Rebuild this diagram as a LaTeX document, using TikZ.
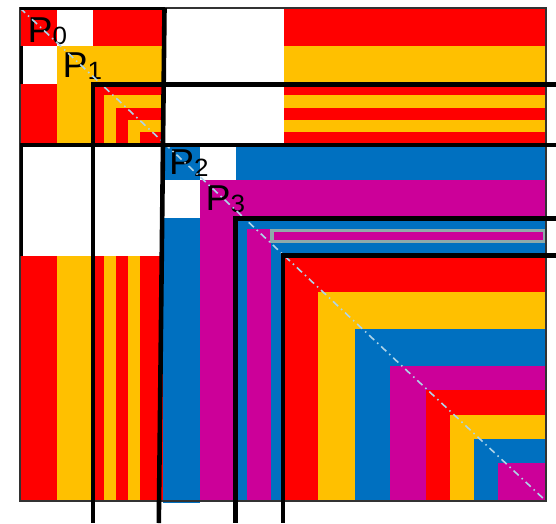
\documentclass[tikz,border=0pt]{standalone}
\usepackage{fontspec}
\setmainfont{Liberation Sans}
\usepackage{graphicx}
\definecolor{mred}{HTML}{FF0000}
\definecolor{mor}{HTML}{FFC000}
\definecolor{mblue}{HTML}{0070C0}
\definecolor{mmag}{HTML}{CC0099}
\definecolor{mgray}{RGB}{143,170,170}
\definecolor{mdiag}{RGB}{175,212,232}
\definecolor{mframe}{RGB}{50,50,50}
\newcommand{\plabel}[1]{\scalebox{1.04}[1]{\fontsize{36}{36}\selectfont P\raisebox{-2pt}{\fontsize{25}{25}\selectfont #1}}}
\begin{document}
\begin{tikzpicture}[x=1pt,y=-1pt,
  blk/.style={line width=4.6pt, black},
  wcell/.style={fill=white},
  lbl/.style={anchor=base west, inner sep=0pt}]
\useasboundingbox (0,0) rectangle (556,523);
\fill[white] (0,0) rectangle (556,523);
% row and column bands of the symmetric pattern
\foreach \c/\xa/\ya/\xb/\yb in {
  mred/20/8/57/46, mor/57/46/93/84,
  mred/93/84/104/95, mor/104/95/116/107.5, mred/116/107.5/128/120,
  mor/128/120/140/132, mred/140/132/163/145,
  mblue/163/145/200/180, mmag/200/180/236/218,
  mblue/236/218/247/229, mmag/247/229/271/243, mblue/271/243/284/256,
  mred/284/256/318/292, mor/318/292/355/329, mblue/355/329/390/366,
  mmag/390/366/426/390, mred/426/390/450/415, mor/450/415/474/439,
  mblue/474/439/498/463, mmag/498/463/546/501} {
  \fill[\c] (\xa,\ya) rectangle (546,\yb);
  \fill[\c] (\xa,\ya) rectangle (\xb,501);
}
\fill[mblue] (163,501) rectangle (200,503);
% empty blocks
\fill[wcell] (57,8) rectangle (93,46);
\fill[wcell] (20,46) rectangle (57,84);
\fill[wcell] (164,8) rectangle (284,145);
\fill[wcell] (20,145) rectangle (163,256);
\fill[wcell] (200,145) rectangle (236,180);
\fill[wcell] (163,180) rectangle (200,218);
% highlighted row
\draw[mgray, line width=3.6pt] (272,230.3) rectangle (544.8,241.5);
% labels
\node[lbl] (p0) at (27.5,42) {\plabel{0}};
\node[lbl] (p1) at (62.5,77) {\plabel{1}};
\node[lbl] (p2) at (169,174) {\plabel{2}};
\node[lbl] (p3) at (205.5,210) {\plabel{3}};
% diagonal
\draw[mdiag, line width=1.6pt, dash pattern=on 7pt off 4pt on 1.5pt off 4pt] (20,8) -- (546,501);
% frame
\draw[mframe, line width=1.2pt] (20,8) rectangle (546,501);
\draw[black, line width=2.8pt] (20,8.6) -- (165,8.6);
\draw[black, line width=2.6pt] (21.3,46) -- (21.3,84);
\draw[black, line width=2.6pt] (21.3,145) -- (21.3,256);
% separators
\draw[blk] (91,84.3) -- (556,84.3);
\draw[blk] (93,82) -- (93,523);
\draw[blk] (20,144.8) -- (556,144.8);
\draw[blk] (164.5,8) -- (158.8,523);
\draw[blk] (233,218.7) -- (556,218.7);
\draw[blk] (235.2,216.5) -- (235.2,523);
\draw[blk] (280.5,255.5) -- (556,255.5);
\draw[blk] (282.8,253.3) -- (282.8,523);
\end{tikzpicture}
\end{document}
